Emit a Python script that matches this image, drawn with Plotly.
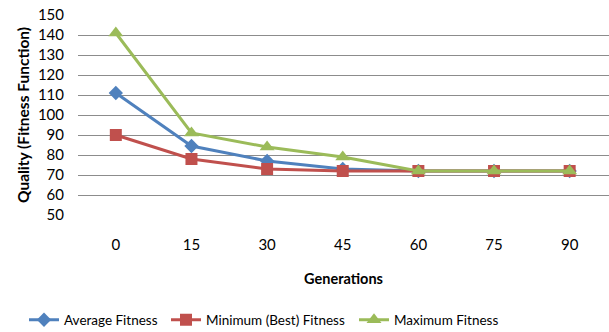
import plotly.graph_objects as go

generations = [0, 15, 30, 45, 60, 75, 90]
avg_fitness = [111, 84.5, 77, 73, 72, 72, 72]
min_fitness = [90, 78, 73, 72, 72, 72, 72]
max_fitness = [141, 91, 84, 79, 72, 72, 72]
y_ticks = [50, 60, 70, 80, 90, 100, 110, 120, 130, 140, 150]

FONT = "Lato, Open Sans, sans-serif"
L, W = 78, 531


def px_to_paper(px):
    return (px - L) / W


fig = go.Figure()
fig.add_trace(go.Scatter(x=generations, y=avg_fitness, name="Average Fitness",
                         mode="lines+markers", legend="legend",
                         line=dict(color="#4F81BD", width=3),
                         marker=dict(symbol="diamond", size=11, color="#4F81BD")))
fig.add_trace(go.Scatter(x=generations, y=min_fitness, name="Minimum (Best) Fitness",
                         mode="lines+markers", legend="legend2",
                         line=dict(color="#C0504D", width=3),
                         marker=dict(symbol="square", size=12, color="#C0504D")))
fig.add_trace(go.Scatter(x=generations, y=max_fitness, name="Maximum Fitness",
                         mode="lines+markers", legend="legend3",
                         line=dict(color="#9BBB59", width=3),
                         marker=dict(symbol="triangle-up", size=13, color="#9BBB59")))

leg_common = dict(orientation="h", xanchor="left", y=-0.525, yanchor="middle",
                  font=dict(size=13.5), bgcolor="rgba(0,0,0,0)")

fig.update_layout(
    width=609, height=332,
    margin=dict(l=L, r=0, t=15, b=117, autoexpand=False),
    paper_bgcolor="white", plot_bgcolor="white",
    font=dict(family=FONT, size=15, color="#000000"),
    showlegend=True,
    legend=dict(x=px_to_paper(24), **leg_common),
    legend2=dict(x=px_to_paper(166), **leg_common),
    legend3=dict(x=px_to_paper(354), **leg_common),
    xaxis=dict(range=[-7.5, 97.8], tickvals=generations, ticktext=[str(g) for g in generations],
               showgrid=False, zeroline=False, showline=False, ticks="", automargin=False,
               ticklabelstandoff=19, tickfont=dict(size=15),
               title=dict(text="<b>Generations</b>", font=dict(size=14.5), standoff=21)),
    yaxis=dict(range=[50, 150], tickvals=y_ticks, showgrid=True, gridcolor="#8C8C8C", gridwidth=1,
               zeroline=False, showline=False, ticks="", tickfont=dict(size=15), automargin=False,
               ticklabelstandoff=13,
               title=dict(text="<b>Quality (Fitness Function)</b>", font=dict(size=15.5), standoff=4)),
)

fig.write_html("out.html", config={"displayModeBar": False},
               post_script="document.body.style.margin='0';")
